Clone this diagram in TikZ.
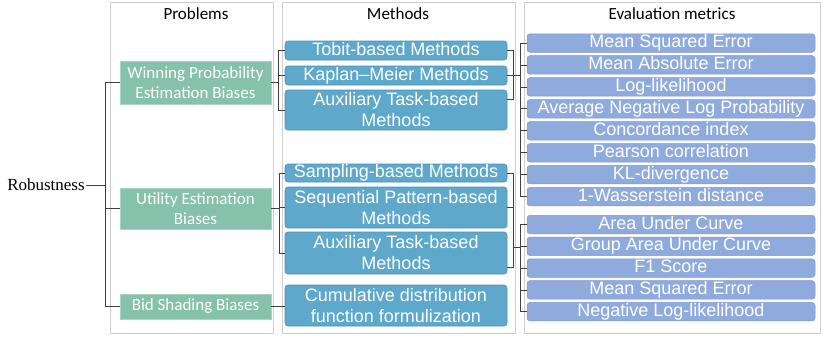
\documentclass[tikz,border=0pt]{standalone}
\usepackage{fontspec}
\setmainfont{Liberation Serif}
\newfontfamily\calfont{Carlito}
\newfontfamily\arifont{Liberation Sans}
\usetikzlibrary{calc}

\definecolor{panelgray}{HTML}{CFCFCF}
\definecolor{probgreen}{HTML}{85C1AB}
\definecolor{probedge}{HTML}{A9D4C4}
\definecolor{methblue}{HTML}{5DA8CB}
\definecolor{methedge}{HTML}{4D93B8}
\definecolor{metblue}{HTML}{8FAADC}
\definecolor{metedge}{HTML}{7D99CF}
\definecolor{linkgray}{HTML}{404040}

\tikzset{
  panel/.style={draw=panelgray, line width=0.8pt},
  header/.style={font=\calfont\fontsize{17}{20}\selectfont},
  probbox/.style={fill=probgreen, draw=probedge, line width=0.8pt, text=white,
    font=\calfont\fontsize{17}{20}\selectfont, align=center,
    minimum width=151pt, inner sep=0pt},
  methbox/.style={fill=methblue, draw=methedge, line width=0.6pt, rounded corners=3pt,
    text=white, font=\arifont\fontsize{18}{21}\selectfont, align=center,
    minimum width=222pt, inner sep=0pt},
  oneline/.style={text height=12.5pt, text depth=3.5pt},
  metbox/.style={fill=metblue, draw=metedge, line width=0.5pt, rounded corners=3pt,
    text=white, font=\arifont\fontsize{18}{21}\selectfont, align=center, oneline,
    minimum width=288pt, minimum height=18.5pt, inner sep=0pt},
  link/.style={draw=linkgray, line width=0.8pt}
}

\begin{document}
\begin{tikzpicture}[x=1pt,y=-1pt]
  \useasboundingbox (0,0) rectangle (830,338);

  % column panels
  \draw[panel] (110,2) rectangle (273,333);
  \draw[panel] (282,2) rectangle (515,333);
  \draw[panel] (524,2) rectangle (820,333);
  \node[header] (hp) at (196,14) {Problems};
  \node[header] (hm) at (398,14) {Methods};
  \node[header] (he) at (672,14) {Evaluation metrics};

  % root
  \node[font=\fontsize{17}{20}\selectfont, inner sep=1pt] (rob) at (46,185) {Robustness};

  % problems
  \node[probbox, minimum height=43pt] (p1) at (195.5,82.5) {Winning Probability\\Estimation Biases};
  \node[probbox, minimum height=41pt] (p2) at (195.5,208.5) {Utility Estimation\\Biases};
  \node[probbox, minimum height=25pt] (p3) at (195.5,306.5) {Bid Shading Biases};

  % methods
  \node[methbox, oneline, minimum height=19pt] (m1) at (396,50.5) {Tobit-based Methods};
  \node[methbox, oneline, minimum height=19pt] (m2) at (396,75.5) {Kaplan–Meier Methods};
  \node[methbox, minimum height=40pt] (m3) at (396,110) {Auxiliary Task-based\\Methods};
  \node[methbox, oneline, minimum height=18pt] (m4) at (396,173) {Sampling-based Methods};
  \node[methbox, minimum height=41pt] (m5) at (396,207.5) {Sequential Pattern-based\\Methods};
  \node[methbox, minimum height=42pt] (m6) at (396,253) {Auxiliary Task-based\\Methods};
  \node[methbox, minimum height=41pt] (m7) at (396,305.5) {Cumulative distribution\\function formulization};

  % metrics
  \foreach \t [count=\i] in {Mean Squared Error, Mean Absolute Error, Log-likelihood,
      Average Negative Log Probability, Concordance index, Pearson correlation,
      KL-divergence, 1-Wasserstein distance} {
    \node[metbox] (ea\i) at (671,{43+(\i-1)*21.95}) {\t};
  }
  \foreach \t [count=\i] in {Area Under Curve, Group Area Under Curve, F1 Score,
      Mean Squared Error, Negative Log-likelihood} {
    \node[metbox] (eb\i) at (671,{224.5+(\i-1)*21.8}) {\t};
  }

  % root -> problems
  \draw[link] (rob.east) -- (105,185) coordinate (rj);
  \foreach \p in {p1,p2,p3} {
    \draw[link] (\p.west) -| (rj);
  }

  % problems -> methods
  \coordinate (q1) at ([xshift=7pt]p1.east);
  \coordinate (q2) at ([xshift=8pt]p2.east);
  \draw[link] (p1.east) -- (q1);
  \draw[link] (p2.east) -- (q2);
  \foreach \m in {m1,m2,m3} {
    \draw[link] (\m.west) -| (q1);
  }
  \foreach \m in {m4,m5,m6} {
    \draw[link] (\m.west) -| (q2);
  }
  \draw[link] (p3.east) -- (p3.east -| m7.west);

  % methods -> metrics
  \coordinate (r1) at ([xshift=6pt]m2.east);
  \draw[link] (m1.east) -| (r1);
  \draw[link] ([yshift=11pt]m3.east) -| (r1);
  \draw[link] (m2.east) -- (r1) -- ++(7pt,0) coordinate (s1);
  \foreach \i in {1,...,8} {
    \draw[link] (ea\i.west) -| (s1);
  }
  \coordinate (r2) at (513,247);
  \draw[link] (m4.east) -| (r2);
  \draw[link] (m5.east) -| (r2);
  \draw[link] ([yshift=-14pt]m6.east) -| (r2);
  \draw[link] (r2) -- ++(7pt,0) coordinate (s2);
  \foreach \i in {1,...,5} {
    \draw[link] (eb\i.west) -| (s2);
  }
\end{tikzpicture}
\end{document}
